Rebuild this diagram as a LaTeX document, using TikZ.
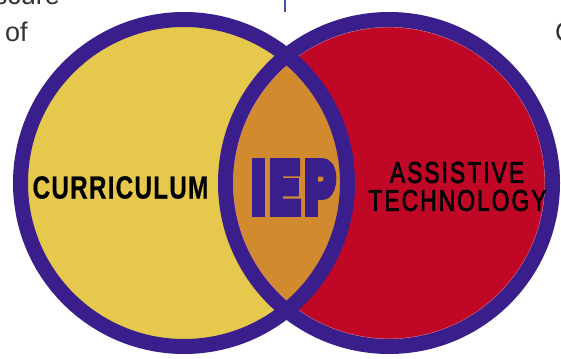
\documentclass[tikz,border=0pt]{standalone}
\usepackage{graphicx}
\usepackage{fontspec}
\setmainfont{Liberation Sans}
\newfontfamily\heavyfont[FakeBold=15, LetterSpace=14]{Liberation Sans Bold}
\newfontfamily\labelfont[FakeBold=0.5, LetterSpace=5]{Liberation Sans Bold}
\newfontfamily\techfont[FakeBold=2.5, LetterSpace=9]{Liberation Sans}
\newfontfamily\plainfont{Liberation Sans}

\definecolor{ringpurple}{RGB}{58,30,140}
\definecolor{curyellow}{RGB}{229,200,76}
\definecolor{techred}{RGB}{192,8,38}
\definecolor{lensorange}{RGB}{210,138,46}
\definecolor{pagegrey}{RGB}{51,51,51}
\definecolor{ruleblue}{RGB}{70,80,160}

\tikzset{
  ring/.style={draw=ringpurple, line width=15pt},
  bodytext/.style={text=pagegrey, font=\plainfont\fontsize{27}{30}\selectfont, inner sep=0pt},
  circlelabel/.style={text=black, inner sep=0pt},
}

\begin{document}
\begin{tikzpicture}[x=1pt, y=-1pt]
  \useasboundingbox (0,0) rectangle (561,358);
  \clip (0,0) rectangle (561,358);

  % centres of the two sets
  \coordinate (lc) at (184,183);
  \coordinate (rc) at (389,183);

  % fills
  \fill[curyellow] (lc) circle[radius=163.5];
  \fill[techred] (rc) circle[radius=163.5];
  \begin{scope}
    \clip (lc) circle[radius=163.5];
    \fill[lensorange] (rc) circle[radius=163.5];
  \end{scope}
  % faint light edge inside the red set
  \draw[techred!45!white, line width=0.8pt] (rc) circle[radius=156];

  % purple rings
  \draw[ring] (lc) circle[radius=163.5];
  \draw[ring] (rc) circle[radius=163.5];

  % labels
  \node[circlelabel] (cur) at (120.5,187.5)
    {\scalebox{0.76}[1]{\labelfont\fontsize{32}{34}\selectfont CURRICULUM}};
  \node[circlelabel] (iep) at (293.5,187.5)
    {\textcolor{ringpurple}{\scalebox{0.62}[1]{\heavyfont\fontsize{70}{72}\selectfont IEP}}};
  \node[circlelabel] (assist) at (457,172.5)
    {\scalebox{0.76}[1]{\techfont\fontsize{30}{32}\selectfont ASSISTIVE}};
  \node[circlelabel] (tech) at (457.5,200.5)
    {\scalebox{0.76}[1]{\techfont\fontsize{30}{32}\selectfont TECHNOLOGY}};

  % surrounding page text
  \node[bodytext, anchor=base east] (w1) at (60,5) {obscure};
  \node[bodytext, anchor=base west] (w2) at (5,42) {of};
  \node[bodytext, anchor=base west] (w3) at (555,42) {C};
  \coordinate (rtop) at (285,0);
  \coordinate (rbot) at (285,12);
  \draw[ruleblue, line width=1.5pt] (rtop) -- (rbot);
\end{tikzpicture}
\end{document}
